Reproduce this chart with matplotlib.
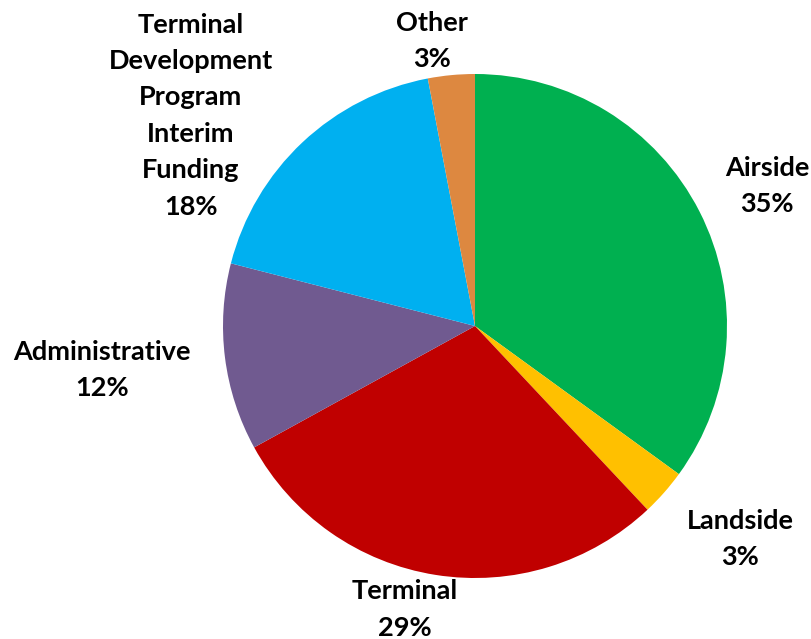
import matplotlib
matplotlib.use("Agg")
import matplotlib.pyplot as plt

categories = ["Airside", "Landside", "Terminal", "Administrative",
              "Terminal\nDevelopment\nProgram\nInterim\nFunding", "Other"]
values = [35, 3, 29, 12, 18, 3]
colors = ["#00B050", "#FFC000", "#C00000", "#705A90", "#00B0F0", "#DD8840"]
# label anchor positions, in units of the pie radius relative to its centre
label_pos = [(1.159, 0.555), (1.052, -0.845), (-0.278, -1.125),
             (-1.480, -0.175), (-1.127, 0.835), (-0.171, 1.131)]

W, H = 812, 639
cx, cy, R = 475, 326, 252

fig = plt.figure(figsize=(W / 100, H / 100), dpi=100)
ax = fig.add_axes([0, 0, 1, 1])
ax.pie(values, colors=colors, startangle=90, counterclock=False,
       radius=1.0, wedgeprops=dict(linewidth=0))
ax.set_xlim(-cx / R, (W - cx) / R)
ax.set_ylim(-(H - cy) / R, cy / R)
ax.set_aspect("auto")
ax.axis("off")

for name, v, (x, y) in zip(categories, values, label_pos):
    ax.text(x, y, f"{name}\n{v}%", ha="center", va="center",
            fontsize=19.5, fontweight="bold", family=["Lato", "DejaVu Sans"],
            linespacing=1.62, color="black")

fig.savefig("out.png", dpi=100)
